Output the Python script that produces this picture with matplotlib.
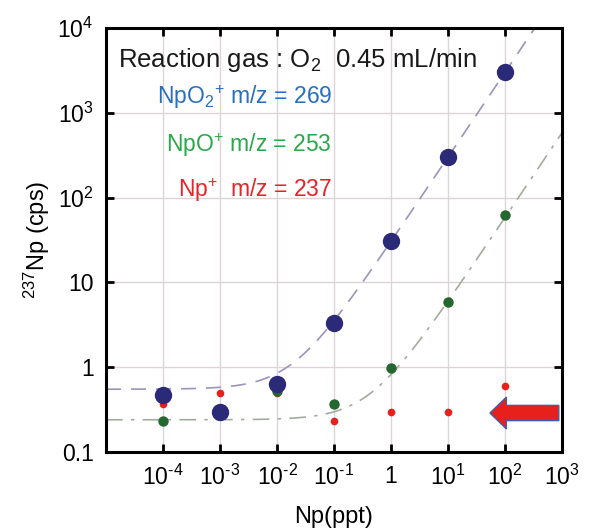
import numpy as np
import matplotlib
matplotlib.use("Agg")
import matplotlib.pyplot as plt
import matplotlib.patches as mpatches

plt.rcParams['font.family'] = ['Liberation Sans', 'DejaVu Sans']
plt.rcParams['mathtext.fontset'] = 'custom'
plt.rcParams['mathtext.rm'] = 'Liberation Sans'
plt.rcParams['mathtext.it'] = 'Liberation Sans:italic'
plt.rcParams['mathtext.bf'] = 'Liberation Sans:bold'

# Data
conc = [1e-4, 1e-3, 1e-2, 1e-1, 1, 10, 100]
npo2 = [0.47, 0.30, 0.63, 3.3, 31, 300, 3000]
npo = [0.235, 0.29, 0.52, 0.37, 0.97, 5.9, 62]
np_ = [0.365, 0.50, 0.50, 0.235, 0.30, 0.30, 0.60]

# fit parameters (y = a + b*x)
fit_npo2 = (0.55, 30.0)
fit_npo = (0.24, 0.58)

xticks = [1e-4, 1e-3, 1e-2, 1e-1, 1, 10, 100, 1000]
xticklabels = [r'$10^{\text{-}4}$', r'$10^{\text{-}3}$', r'$10^{\text{-}2}$',
               r'$10^{\text{-}1}$', '1', '$10^{1}$', '$10^{2}$', '$10^{3}$']
yticks = [0.1, 1, 10, 100, 1000, 10000]
yticklabels = ['0.1', '1', '10', '$10^{2}$', '$10^{3}$', '$10^{4}$']

fig = plt.figure(figsize=(5.93, 5.28), dpi=100)
ax = fig.add_axes([0.1788, 0.1439, 0.7689, 0.803])
ax.set_xscale('log')
ax.set_yscale('log')
ax.set_xlim(1e-5, 1e3)
ax.set_ylim(0.1, 1e4)

xx = np.logspace(-5, 3, 400)
ax.plot(xx, fit_npo2[0] + fit_npo2[1] * xx, color='#9c93bd', lw=1.2,
        dashes=(9, 6), zorder=2)
ax.plot(xx, fit_npo[0] + fit_npo[1] * xx, color='#a3ab9f', lw=1.2,
        dashes=(10, 5, 2, 5), zorder=2)

ax.plot(conc, np_, 'o', color='#e8201c', ms=5.5, mec='none', zorder=3)
ax.plot(conc, npo, 'o', color='#25682f', ms=7.5, mec='none', zorder=4)
ax.plot(conc, npo2, 'o', color='#2b2a78', ms=12.5, mec='none', zorder=5)

ax.set_xticks(xticks)
ax.set_xticklabels(xticklabels)
ax.set_yticks(yticks)
ax.set_yticklabels(yticklabels)
ax.minorticks_off()
ax.tick_params(which='major', direction='in', length=6, width=2,
               top=True, right=True, labelsize=16.5, pad=9)
ax.grid(True, color='#ddd5d5', lw=1)
for s in ax.spines.values():
    s.set_linewidth(2.2)

ax.set_xlabel('Np(ppt)', fontsize=17, labelpad=12)
ax.set_ylabel('$^{237}$Np (cps)', fontsize=17, labelpad=4)

ax.text(0.026, 0.925, 'Reaction gas : O$_2$  0.45 mL/min', transform=ax.transAxes,
        fontsize=18.5, va='center', ha='left', color='#1a1a1a')
ax.text(0.496, 0.837, 'NpO$_2$$^{+}$ m/z = 269', transform=ax.transAxes,
        fontsize=16.5, va='center', ha='right', color='#2a6fbd')
ax.text(0.496, 0.724, 'NpO$^{+}$ m/z = 253', transform=ax.transAxes,
        fontsize=16.5, va='center', ha='right', color='#2aa84a')
ax.text(0.496, 0.618, 'Np$^{+}$  m/z = 237', transform=ax.transAxes,
        fontsize=16.5, va='center', ha='right', color='#ea2228')

arrow = mpatches.FancyArrow(0.993, 0.092, -0.151, 0, width=0.036,
                            head_width=0.075, head_length=0.036,
                            length_includes_head=True, transform=ax.transAxes,
                            fc='#e8201c', ec='#3f5fa8', lw=1, zorder=6,
                            clip_on=False)
ax.add_patch(arrow)

fig.savefig('out.png', dpi=100)
